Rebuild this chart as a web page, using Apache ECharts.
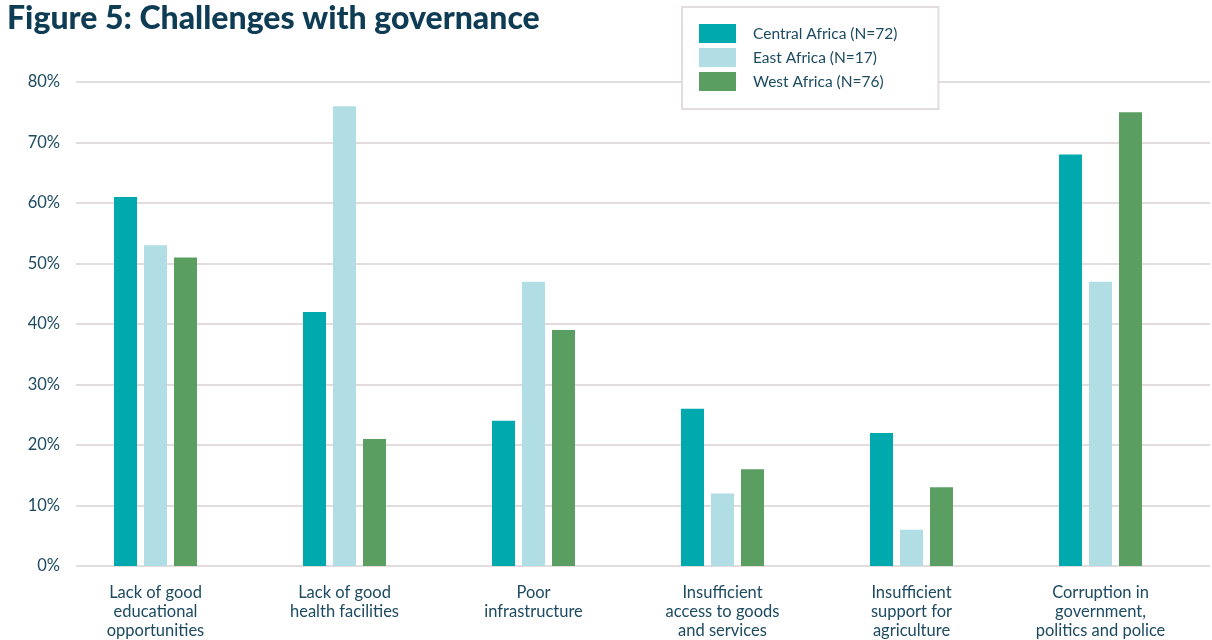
<!DOCTYPE html>
<html>
<head>
<meta charset="utf-8">
<script src="https://cdn.jsdelivr.net/npm/echarts@6/dist/echarts.min.js"></script>
<style>
  html, body { margin: 0; padding: 0; background: #ffffff; }
  #chart { width: 1212px; height: 640px; }
</style>
</head>
<body>
<div id="chart"></div>
<script>
// Challenge categories (x axis)
const categories = [
  'Lack of good\neducational\nopportunities',
  'Lack of good\nhealth facilities',
  'Poor\ninfrastructure',
  'Insufficient\naccess to goods\nand services',
  'Insufficient\nsupport for\nagriculture',
  'Corruption in\ngovernment,\npolitics and police'
];

// Share of respondents per region, in percent
const centralAfrica = [61, 42, 24, 26, 22, 68];
const eastAfrica    = [53, 76, 47, 12, 6, 47];
const westAfrica    = [51, 21, 39, 16, 13, 75];

const seriesNames = ['Central Africa (N=72)', 'East Africa (N=17)', 'West Africa (N=76)'];
const seriesColors = ['#00a9ad', '#b0dee4', '#5a9e62'];

const textColor = '#1c4a61';
const fontFamily = 'Lato, "Noto Sans", sans-serif';

const chart = echarts.init(document.getElementById('chart'), null, { renderer: 'canvas' });

const bar = (name, data, color) => ({
  name,
  type: 'bar',
  data,
  xAxisIndex: 0,
  yAxisIndex: 0,
  barWidth: 23,
  barGap: '30.4%',
  itemStyle: { color },
  emphasis: { disabled: true }
});

chart.setOption({
  animation: false,
  textStyle: { fontFamily },
  title: {
    text: 'Figure 5: Challenges with governance',
    left: 2,
    top: -2,
    textStyle: { color: '#0e3c55', fontSize: 32, fontWeight: 900, fontFamily }
  },
  legend: {
    orient: 'vertical',
    left: 682,
    top: 7,
    padding: [17, 41, 18, 17],
    itemWidth: 37,
    itemHeight: 19,
    itemGap: 5,
    backgroundColor: '#ffffff',
    borderColor: '#e3dcdf',
    borderWidth: 2,
    icon: 'rect',
    data: seriesNames,
    textStyle: { color: textColor, fontSize: 15.5, fontFamily, padding: [0, 0, 0, 12] }
  },
  grid: [
    // bars
    { left: 61, right: 17, top: 82, bottom: 74 },
    // value scale with split lines
    { left: 76, right: 2, top: 82, bottom: 74 }
  ],
  xAxis: [
    {
      type: 'category',
      gridIndex: 0,
      data: categories,
      axisLine: { show: false },
      axisTick: { show: false },
      axisLabel: {
        color: textColor,
        fontSize: 16.5,
        lineHeight: 19,
        margin: 17,
        fontFamily,
        interval: 0
      }
    },
    {
      type: 'value',
      gridIndex: 1,
      show: false,
      min: 0,
      max: 1
    }
  ],
  yAxis: [
    {
      type: 'value',
      gridIndex: 0,
      min: 0,
      max: 80,
      interval: 10,
      show: false,
      splitLine: { show: false }
    },
    {
      type: 'value',
      gridIndex: 1,
      min: 0,
      max: 80,
      interval: 10,
      axisLine: { show: false },
      axisTick: { show: false },
      axisLabel: {
        color: textColor,
        fontSize: 16.5,
        margin: 16,
        fontFamily,
        formatter: '{value}%'
      },
      splitLine: { lineStyle: { color: '#e3dcdf', width: 2 } }
    }
  ],
  series: [
    bar(seriesNames[0], centralAfrica, seriesColors[0]),
    bar(seriesNames[1], eastAfrica, seriesColors[1]),
    bar(seriesNames[2], westAfrica, seriesColors[2])
  ]
});
</script>
</body>
</html>
